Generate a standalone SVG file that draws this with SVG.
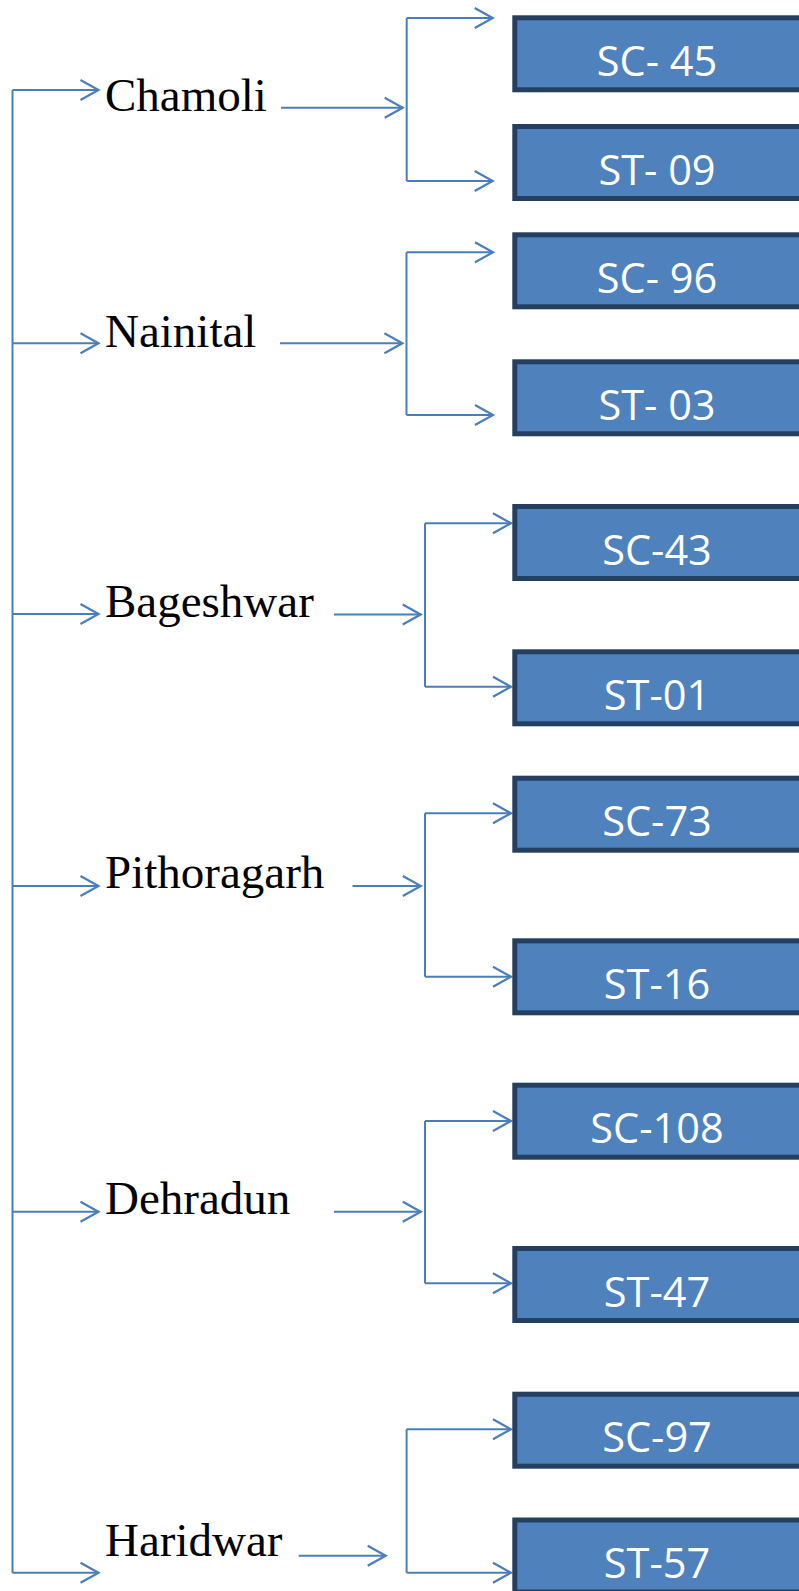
<svg xmlns="http://www.w3.org/2000/svg" width="799" height="1591" viewBox="0 0 799 1591">
<defs>
<marker id="arr" markerUnits="userSpaceOnUse" markerWidth="26" markerHeight="26" viewBox="0 0 26 26" refX="21" refY="13" orient="auto">
<path d="M3,3 L21,13 L3,23" fill="none" stroke="#4a7ebb" stroke-width="2.2"/>
</marker>
</defs>
<style>
.c{fill:none;stroke:#4a7ebb;stroke-width:2}
.a{fill:none;stroke:#4a7ebb;stroke-width:2;marker-end:url(#arr)}
.d{font-family:"Liberation Serif","Times New Roman",serif;font-size:47px;fill:#000}
.b{fill:#4f81bd;stroke:#243f60;stroke-width:5}
.t{font-family:"Open Sans","Noto Sans",sans-serif;font-size:41.5px;fill:#fff;text-anchor:middle}
</style>
<g id="connectors">
<path class="c" d="M12.5,90 V1573"/>
<path class="a" d="M12.5,90 H98.5"/>
<path class="a" d="M12.5,343.3 H98.5"/>
<path class="a" d="M12.5,614 H98.5"/>
<path class="a" d="M12.5,886 H98.5"/>
<path class="a" d="M12.5,1211.7 H98.5"/>
<path class="a" d="M12.5,1572.7 H98.5"/>

<path class="a" d="M281,107.7 H402.7"/>
<path class="c" d="M406.7,18 V181"/>
<path class="a" d="M406.7,18 H492.7"/>
<path class="a" d="M406.7,181 H492.7"/>

<path class="a" d="M280,343.3 H402.4"/>
<path class="c" d="M406.5,252.3 V415"/>
<path class="a" d="M406.5,252.3 H493"/>
<path class="a" d="M406.5,415 H493"/>

<path class="a" d="M334,614.5 H420.7"/>
<path class="c" d="M425,523.3 V686.7"/>
<path class="a" d="M425,523.3 H511"/>
<path class="a" d="M425,686.7 H511"/>

<path class="a" d="M352.5,886 H420.8"/>
<path class="c" d="M425,813.3 V976.7"/>
<path class="a" d="M425,813.3 H511"/>
<path class="a" d="M425,976.7 H511"/>

<path class="a" d="M334,1211.7 H420.8"/>
<path class="c" d="M425,1121 V1283.3"/>
<path class="a" d="M425,1121 H511"/>
<path class="a" d="M425,1283.3 H511"/>

<path class="a" d="M298.7,1555.7 H385.7"/>
<path class="c" d="M406.6,1429.3 V1572.7"/>
<path class="a" d="M406.6,1429.3 H511"/>
<path class="a" d="M406.6,1572.7 H511"/>
</g>

<g id="chamoli"><text class="d" x="105" y="111">Chamoli</text></g>
<g id="nainital"><text class="d" x="105" y="346.7">Nainital</text></g>
<g id="bageshwar"><text class="d" x="105" y="617.3">Bageshwar</text></g>
<g id="pithoragarh"><text class="d" x="105" y="888.3">Pithoragarh</text></g>
<g id="dehradun"><text class="d" x="105" y="1214.3">Dehradun</text></g>
<g id="haridwar"><text class="d" x="105" y="1555.7">Haridwar</text></g>

<g id="sc45"><rect class="b" x="514.8" y="17.8" width="300" height="72"/><text class="t" x="657" y="75.8">SC- 45</text></g>
<g id="st09"><rect class="b" x="514.8" y="126.5" width="300" height="72"/><text class="t" x="657" y="184.5">ST- 09</text></g>
<g id="sc96"><rect class="b" x="514.8" y="234.8" width="300" height="72"/><text class="t" x="657" y="292.8">SC- 96</text></g>
<g id="st03"><rect class="b" x="514.8" y="361.8" width="300" height="72"/><text class="t" x="657" y="419.8">ST- 03</text></g>
<g id="sc43"><rect class="b" x="514.8" y="506.5" width="300" height="72"/><text class="t" x="657" y="564.5">SC-43</text></g>
<g id="st01"><rect class="b" x="514.8" y="651.8" width="300" height="72"/><text class="t" x="657" y="709.8">ST-01</text></g>
<g id="sc73"><rect class="b" x="514.8" y="778.2" width="300" height="72"/><text class="t" x="657" y="836.2">SC-73</text></g>
<g id="st16"><rect class="b" x="514.8" y="940.8" width="300" height="72"/><text class="t" x="657" y="998.8">ST-16</text></g>
<g id="sc108"><rect class="b" x="514.8" y="1085.2" width="300" height="72"/><text class="t" x="657" y="1143.2">SC-108</text></g>
<g id="st47"><rect class="b" x="514.8" y="1248.5" width="300" height="72"/><text class="t" x="657" y="1306.5">ST-47</text></g>
<g id="sc97"><rect class="b" x="514.8" y="1394.2" width="300" height="72"/><text class="t" x="657" y="1452.2">SC-97</text></g>
<g id="st57"><rect class="b" x="514.8" y="1520" width="300" height="72"/><text class="t" x="657" y="1578">ST-57</text></g>
</svg>
